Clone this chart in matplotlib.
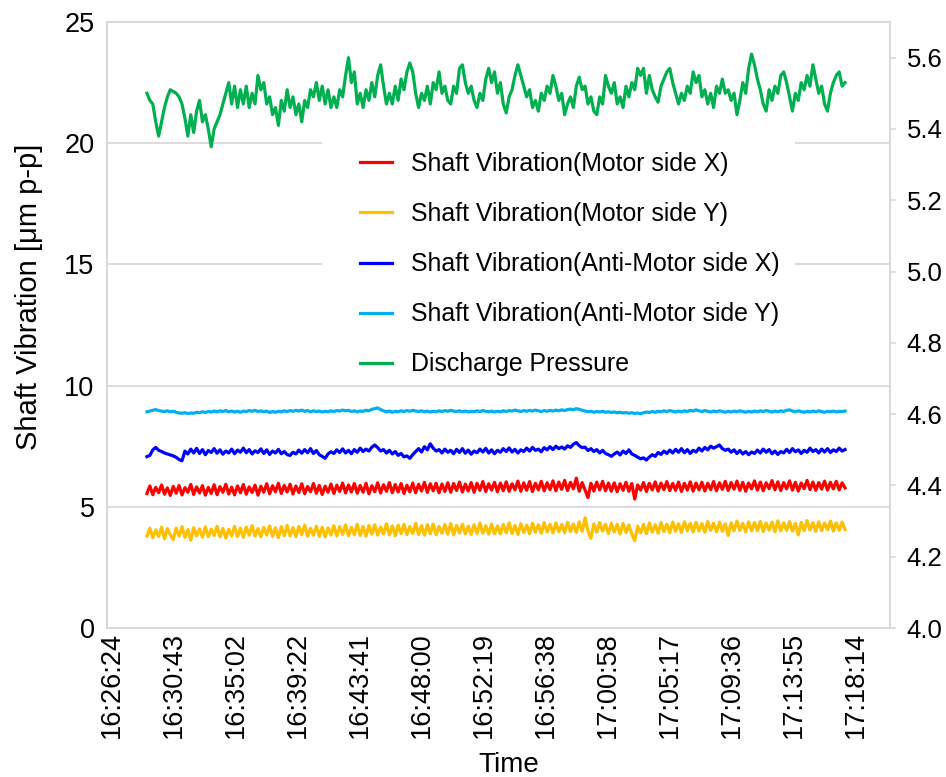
import numpy as np
import matplotlib.pyplot as plt
from matplotlib.patches import Rectangle

plt.rcParams['font.family'] = ['Liberation Sans', 'DejaVu Sans']

# time axis: seconds after 16:26:24, labels every ~4:19
tick_labels = ['16:26:24', '16:30:43', '16:35:02', '16:39:22', '16:43:41', '16:48:00', '16:52:19',
               '16:56:38', '17:00:58', '17:05:17', '17:09:36', '17:13:55', '17:18:14']
tick_step = 259.17
t_first, t_last = 146, 3064

# Shaft Vibration(Motor side X)  [um p-p]
motor_x = [
    5.55, 5.86, 5.50, 5.80, 5.58, 5.90, 5.52, 5.78, 5.47, 5.84,
    5.56, 5.88, 5.49, 5.79, 5.60, 5.92, 5.51, 5.82, 5.57, 5.87,
    5.48, 5.80, 5.55, 5.91, 5.50, 5.83, 5.60, 5.93, 5.53, 5.81,
    5.49, 5.86, 5.58, 5.92, 5.52, 5.82, 5.59, 5.89, 5.48, 5.85,
    5.60, 5.95, 5.54, 5.87, 5.62, 5.97, 5.55, 5.88, 5.61, 5.93,
    5.53, 5.86, 5.59, 5.95, 5.54, 5.84, 5.62, 5.96, 5.56, 5.88,
    5.51, 5.85, 5.60, 5.94, 5.55, 5.89, 5.63, 5.98, 5.57, 5.90,
    5.61, 5.96, 5.56, 5.88, 5.60, 5.97, 5.54, 5.87, 5.62, 5.99,
    5.57, 5.91, 5.64, 6.00, 5.58, 5.92, 5.61, 5.96, 5.55, 5.89,
    5.62, 5.98, 5.58, 5.93, 5.65, 6.01, 5.59, 5.95, 5.66, 5.97,
    5.58, 5.94, 5.63, 5.99, 5.60, 5.96, 5.67, 6.02, 5.61, 5.94,
    5.65, 6.00, 5.60, 5.97, 5.68, 6.04, 5.63, 5.95, 5.69, 6.01,
    5.62, 5.98, 5.66, 6.03, 5.64, 5.95, 5.70, 6.06, 5.64, 5.99,
    5.68, 6.04, 5.63, 5.97, 5.70, 6.05, 5.66, 5.99, 5.71, 6.07,
    5.66, 6.02, 5.72, 6.09, 5.67, 6.01, 5.74, 6.18, 5.64, 6.00,
    5.69, 5.38, 5.97, 5.65, 6.02, 5.70, 6.05, 5.66, 5.98, 5.64,
    5.99, 5.62, 5.95, 5.68, 6.01, 5.64, 5.96, 5.32, 5.90, 5.69,
    6.00, 5.63, 5.97, 5.70, 6.03, 5.65, 5.98, 5.71, 6.04, 5.67,
    5.96, 5.68, 6.02, 5.63, 5.97, 5.69, 6.03, 5.64, 5.98, 5.70,
    6.01, 5.65, 5.97, 5.71, 6.04, 5.66, 5.99, 5.72, 6.05, 5.67,
    6.00, 5.73, 6.06, 5.68, 6.01, 5.64, 5.98, 5.74, 6.07, 5.69,
    6.02, 5.66, 5.99, 5.75, 6.08, 5.70, 6.03, 5.67, 6.00, 5.74,
    6.07, 5.69, 6.01, 5.65, 5.98, 5.75, 6.09, 5.71, 6.02, 5.68,
    6.00, 5.73, 6.06, 5.69, 6.01, 5.74, 6.05, 5.70, 5.99, 5.78,
]

# Shaft Vibration(Motor side Y)
motor_y = [
    3.80, 4.12, 3.72, 4.05, 3.78, 4.16, 3.68, 4.10, 3.84, 3.65,
    4.12, 3.79, 4.18, 3.74, 4.06, 3.62, 4.14, 3.80, 4.09, 3.75,
    4.17, 3.77, 4.08, 3.82, 4.20, 3.76, 4.11, 3.71, 4.07, 3.80,
    4.19, 3.78, 4.12, 3.74, 4.16, 3.83, 4.22, 3.79, 4.10, 3.76,
    4.15, 3.84, 4.21, 3.78, 4.13, 3.73, 4.18, 3.81, 4.23, 3.80,
    4.14, 3.77, 4.19, 3.85, 4.24, 3.79, 4.11, 3.83, 4.20, 3.78,
    4.16, 3.76, 4.13, 3.84, 4.22, 3.80, 4.18, 3.86, 4.25, 3.81,
    4.15, 3.85, 4.28, 3.82, 4.19, 3.79, 4.23, 3.87, 4.26, 3.83,
    4.17, 3.88, 4.30, 3.84, 4.21, 3.81, 4.24, 3.89, 4.28, 3.85,
    4.18, 3.90, 4.32, 3.86, 4.22, 3.83, 4.26, 3.89, 4.29, 3.85,
    4.19, 3.91, 4.27, 3.87, 4.31, 3.84, 4.23, 3.92, 4.28, 3.88,
    4.20, 3.86, 4.26, 3.90, 4.33, 3.91, 4.22, 3.87, 4.29, 3.89,
    4.21, 3.88, 4.27, 3.93, 4.34, 3.90, 4.23, 3.86, 4.30, 3.94,
    4.24, 3.89, 4.32, 3.95, 4.26, 3.91, 4.35, 3.96, 4.28, 3.92,
    4.33, 3.97, 4.27, 3.93, 4.36, 3.98, 4.29, 3.94, 4.38, 3.99,
    4.55, 4.00, 3.70, 4.30, 3.95, 4.35, 4.00, 4.28, 3.90, 4.32,
    3.96, 4.27, 3.88, 4.31, 3.94, 4.25, 3.87, 3.60, 4.20, 3.92,
    4.28, 3.89, 4.33, 3.96, 4.26, 3.91, 4.35, 3.98, 4.29, 3.93,
    4.37, 3.99, 4.30, 3.94, 4.38, 4.01, 4.32, 3.96, 4.36, 4.00,
    4.31, 3.95, 4.39, 4.02, 4.33, 3.97, 4.37, 3.99, 4.30, 3.82,
    4.34, 4.01, 4.41, 4.03, 4.32, 3.96, 4.38, 4.00, 4.35, 4.02,
    4.40, 3.98, 4.33, 4.04, 4.37, 3.97, 4.42, 4.01, 4.34, 4.03,
    4.39, 4.00, 4.32, 3.84, 4.36, 4.02, 4.43, 4.04, 4.35, 3.99,
    4.38, 4.01, 4.33, 4.05, 4.41, 4.00, 4.34, 4.03, 4.37, 4.06,
]

# Shaft Vibration(Anti-Motor side X)
anti_x = [
    7.07, 7.12, 7.35, 7.45, 7.33, 7.28, 7.22, 7.18, 7.14, 7.10,
    7.04, 6.95, 6.90, 7.30, 7.18, 7.38, 7.22, 7.41, 7.20, 7.36,
    7.15, 7.32, 7.24, 7.40, 7.21, 7.35, 7.17, 7.30, 7.22, 7.38,
    7.19, 7.34, 7.25, 7.42, 7.23, 7.36, 7.18, 7.31, 7.24, 7.39,
    7.20, 7.35, 7.16, 7.30, 7.22, 7.37, 7.19, 7.28, 7.15, 7.12,
    7.25, 7.18, 7.34, 7.21, 7.36, 7.23, 7.40, 7.20, 7.32, 7.15,
    7.08, 7.00, 7.18, 7.27, 7.20, 7.35, 7.24, 7.39, 7.22, 7.33,
    7.19, 7.36, 7.25, 7.42, 7.28, 7.38, 7.30, 7.46, 7.55, 7.44,
    7.30, 7.36, 7.22, 7.33, 7.18, 7.28, 7.12, 7.20, 7.06, 7.10,
    7.00, 7.15, 7.28, 7.40, 7.26, 7.48, 7.35, 7.60, 7.42, 7.30,
    7.36, 7.22, 7.38, 7.25, 7.33, 7.19, 7.37, 7.24, 7.40, 7.21,
    7.34, 7.17, 7.30, 7.23, 7.38, 7.26, 7.41, 7.22, 7.35, 7.19,
    7.33, 7.25, 7.40, 7.28, 7.43, 7.26, 7.37, 7.22, 7.35, 7.28,
    7.42, 7.30, 7.45, 7.33, 7.38, 7.27, 7.44, 7.35, 7.48, 7.36,
    7.50, 7.40, 7.47, 7.38, 7.52, 7.45, 7.58, 7.65, 7.52, 7.44,
    7.46, 7.32, 7.40, 7.28, 7.36, 7.22, 7.33, 7.20, 7.15, 7.08,
    7.18, 7.26, 7.14, 7.30, 7.20, 7.35, 7.18, 7.12, 7.05, 6.98,
    7.02, 6.93, 7.05, 7.15, 7.08, 7.24, 7.16, 7.30, 7.20, 7.34,
    7.22, 7.37, 7.25, 7.40, 7.23, 7.36, 7.20, 7.33, 7.26, 7.42,
    7.30, 7.45, 7.35, 7.50, 7.42, 7.48, 7.55, 7.40, 7.33, 7.38,
    7.25, 7.35, 7.20, 7.32, 7.18, 7.28, 7.15, 7.26, 7.20, 7.34,
    7.22, 7.38, 7.25, 7.36, 7.19, 7.30, 7.16, 7.28, 7.22, 7.37,
    7.24, 7.40, 7.27, 7.35, 7.20, 7.33, 7.25, 7.42, 7.28, 7.36,
    7.22, 7.38, 7.26, 7.40, 7.24, 7.35, 7.28, 7.42, 7.30, 7.36,
]

# Shaft Vibration(Anti-Motor side Y)
anti_y = [
    8.92, 8.95, 8.98, 9.01, 8.97, 8.95, 8.93, 8.96, 8.92, 8.94,
    8.90, 8.87, 8.86, 8.88, 8.85, 8.87, 8.86, 8.90, 8.88, 8.92,
    8.89, 8.93, 8.91, 8.95, 8.92, 8.96, 8.93, 8.97, 8.92, 8.95,
    8.91, 8.94, 8.90, 8.95, 8.93, 8.97, 8.94, 8.98, 8.93, 8.96,
    8.92, 8.95, 8.89, 8.93, 8.90, 8.94, 8.92, 8.96, 8.93, 8.97,
    8.94, 8.98, 8.95, 8.99, 8.94, 8.97, 8.92, 8.96, 8.93, 8.95,
    8.91, 8.94, 8.92, 8.96, 8.93, 8.97, 8.95, 8.99, 8.96, 8.98,
    8.93, 8.96, 8.92, 8.95, 8.94, 8.98, 8.96, 9.02, 9.05, 9.08,
    9.01, 8.96, 8.92, 8.95, 8.90, 8.94, 8.92, 8.96, 8.93, 8.97,
    8.94, 8.98, 8.95, 8.93, 8.96, 8.92, 8.95, 8.91, 8.94, 8.92,
    8.96, 8.93, 8.97, 8.94, 8.98, 8.95, 8.93, 8.96, 8.92, 8.95,
    8.91, 8.94, 8.92, 8.96, 8.93, 8.97, 8.94, 8.92, 8.95, 8.91,
    8.94, 8.92, 8.96, 8.93, 8.97, 8.95, 8.99, 8.96, 8.93, 8.97,
    8.94, 8.98, 8.95, 8.99, 8.96, 8.93, 8.97, 8.94, 8.98, 8.95,
    8.99, 8.96, 9.00, 8.97, 9.01, 9.03, 9.00, 9.05, 9.02, 8.98,
    8.95, 8.92, 8.94, 8.90, 8.93, 8.91, 8.94, 8.90, 8.92, 8.89,
    8.91, 8.88, 8.90, 8.87, 8.89, 8.86, 8.88, 8.85, 8.87, 8.84,
    8.88, 8.91, 8.89, 8.93, 8.90, 8.94, 8.92, 8.96, 8.93, 8.97,
    8.94, 8.91, 8.95, 8.92, 8.96, 8.93, 8.98, 8.95, 9.00, 8.96,
    8.93, 8.97, 8.94, 8.91, 8.95, 8.92, 8.96, 8.93, 8.90, 8.94,
    8.91, 8.95, 8.92, 8.96, 8.93, 8.90, 8.94, 8.91, 8.95, 8.92,
    8.96, 8.93, 8.97, 8.94, 8.91, 8.95, 8.92, 8.96, 8.93, 8.98,
    9.00, 8.95, 8.92, 8.96, 8.93, 8.90, 8.94, 8.91, 8.95, 8.92,
    8.96, 8.93, 8.90, 8.94, 8.92, 8.95, 8.91, 8.94, 8.93, 8.95,
]

# Discharge Pressure (right axis)
pressure = [
    5.50, 5.48, 5.47, 5.42, 5.38, 5.42, 5.46, 5.49, 5.51, 5.505,
    5.50, 5.49, 5.47, 5.43, 5.38, 5.44, 5.39, 5.45, 5.48, 5.42,
    5.44, 5.40, 5.35, 5.40, 5.42, 5.44, 5.47, 5.50, 5.53, 5.47,
    5.52, 5.46, 5.51, 5.47, 5.52, 5.46, 5.50, 5.47, 5.55, 5.51,
    5.53, 5.47, 5.49, 5.44, 5.46, 5.41, 5.48, 5.45, 5.51, 5.46,
    5.49, 5.44, 5.47, 5.42, 5.48, 5.46, 5.51, 5.49, 5.53, 5.48,
    5.52, 5.47, 5.51, 5.46, 5.49, 5.46, 5.51, 5.49, 5.55, 5.60,
    5.53, 5.56, 5.47, 5.50, 5.46, 5.51, 5.48, 5.53, 5.49, 5.55,
    5.58, 5.52, 5.47, 5.50, 5.47, 5.52, 5.48, 5.54, 5.51, 5.56,
    5.585, 5.56, 5.50, 5.46, 5.50, 5.48, 5.52, 5.47, 5.53, 5.51,
    5.56, 5.50, 5.52, 5.48, 5.47, 5.52, 5.50, 5.57, 5.58, 5.53,
    5.50, 5.52, 5.48, 5.46, 5.50, 5.48, 5.54, 5.57, 5.53, 5.56,
    5.50, 5.53, 5.47, 5.445, 5.49, 5.51, 5.55, 5.58, 5.55, 5.52,
    5.49, 5.51, 5.46, 5.48, 5.45, 5.50, 5.48, 5.52, 5.50, 5.55,
    5.52, 5.48, 5.50, 5.44, 5.47, 5.49, 5.46, 5.52, 5.545, 5.51,
    5.52, 5.47, 5.49, 5.45, 5.44, 5.49, 5.47, 5.55, 5.52, 5.50,
    5.53, 5.47, 5.49, 5.46, 5.52, 5.49, 5.53, 5.51, 5.57, 5.55,
    5.57, 5.50, 5.55, 5.51, 5.49, 5.475, 5.52, 5.54, 5.56, 5.57,
    5.53, 5.50, 5.47, 5.50, 5.48, 5.52, 5.50, 5.56, 5.53, 5.55,
    5.49, 5.51, 5.47, 5.50, 5.46, 5.52, 5.50, 5.54, 5.50, 5.51,
    5.48, 5.50, 5.44, 5.48, 5.53, 5.50, 5.57, 5.61, 5.58, 5.54,
    5.51, 5.47, 5.45, 5.51, 5.48, 5.52, 5.50, 5.55, 5.56, 5.53,
    5.49, 5.45, 5.50, 5.48, 5.53, 5.51, 5.55, 5.52, 5.58, 5.54,
    5.50, 5.52, 5.47, 5.45, 5.50, 5.53, 5.55, 5.56, 5.52, 5.53,
]

series = [
    ('Shaft Vibration(Motor side X)', motor_x, '#FF0000'),
    ('Shaft Vibration(Motor side Y)', motor_y, '#FFC000'),
    ('Shaft Vibration(Anti-Motor side X)', anti_x, '#0000FF'),
    ('Shaft Vibration(Anti-Motor side Y)', anti_y, '#00B0F0'),
]

grid_c = '#D9D9D9'
W, H = 946, 777
fig = plt.figure(figsize=(W / 100, H / 100), dpi=100)
ax = fig.add_axes([107 / W, 149 / H, 783 / W, 606 / H])
ax2 = ax.twinx()

handles = []
for name, vals, col in series:
    t = np.linspace(t_first, t_last, len(vals))
    h, = ax.plot(t, vals, color=col, lw=2.3, label=name)
    handles.append(h)
t = np.linspace(t_first, t_last, len(pressure))
h, = ax2.plot(t, pressure, color='#00B050', lw=2.3, label='Discharge Pressure')
handles.append(h)

ax.set_xlim(-21, 3252)
ax.set_ylim(0, 25)
ax.set_yticks([0, 5, 10, 15, 20, 25])
ax2.set_ylim(4.0, 5.7)
ax2.set_yticks(np.arange(4.0, 5.61, 0.2))
ax2.set_yticklabels(['%.1f' % v for v in np.arange(4.0, 5.61, 0.2)])
ax.set_xticks([k * tick_step for k in range(len(tick_labels))])
ax.set_xticklabels(tick_labels, rotation=90)

ax.set_axisbelow(True)
ax.yaxis.grid(True, color=grid_c, lw=1.3)
for a in (ax, ax2):
    for s in a.spines.values():
        s.set_color(grid_c)
        s.set_linewidth(1.3)

ax.tick_params(axis='y', length=0, pad=9, labelsize=19.5)
ax.tick_params(axis='x', length=0, pad=3, labelsize=19.5)
ax2.tick_params(axis='y', length=4, width=1.2, color=grid_c, pad=8, labelsize=18.5)

ax.set_ylabel('Shaft Vibration [μm p-p]', fontsize=21)
ax.yaxis.set_label_coords(-0.082, 0.546)
ax.set_xlabel('Time', fontsize=20)
ax.xaxis.set_label_coords(0.513, -0.205)

# white backing behind the legend (hides the gridlines there)
ax.add_patch(Rectangle(((322 - 107) / 783, (628 - 380) / 606), (795 - 322) / 783, (380 - 128) / 606,
                       transform=ax.transAxes, facecolor='white', edgecolor='none', zorder=0.8))

ax2.legend(handles=handles, loc='upper left', bbox_to_anchor=(360 / W, 1 - 152 / H),
           bbox_transform=fig.transFigure, frameon=False, fontsize=17.9,
           handlelength=1.3, handletextpad=0.76, labelspacing=1.05,
           borderpad=0, borderaxespad=0)

fig.savefig('out.png', dpi=100)
